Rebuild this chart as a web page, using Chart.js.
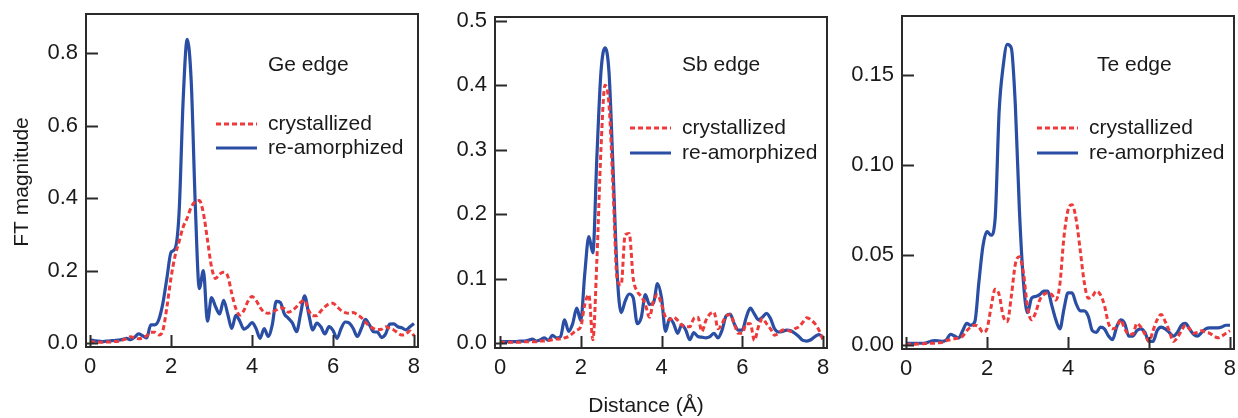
<!DOCTYPE html>
<html>
<head>
<meta charset="utf-8">
<script src="https://cdn.jsdelivr.net/npm/chart.js@4/dist/chart.umd.min.js"></script>
<style>
  html, body { margin: 0; padding: 0; background: #fff; }
  #wrap { position: relative; width: 1238px; height: 418px; }
  #wrap canvas { position: absolute; left: 0; top: 0; }
</style>
</head>
<body>
<div id="wrap">
  <canvas id="geChart" width="1238" height="418"></canvas>
  <canvas id="sbChart" width="1238" height="418"></canvas>
  <canvas id="teChart" width="1238" height="418"></canvas>
</div>
<script>
// distance axis (Å), shared by all three panels
var distance = [
  0.0, 0.1, 0.2, 0.3, 0.4, 0.5, 0.6, 0.7, 0.8, 0.9,
  1.0, 1.1, 1.2, 1.3, 1.4, 1.5, 1.6, 1.7, 1.8, 1.9,
  2.0, 2.1, 2.2, 2.3, 2.4, 2.5, 2.6, 2.7, 2.8, 2.9,
  3.0, 3.1, 3.2, 3.3, 3.4, 3.5, 3.6, 3.7, 3.8, 3.9,
  4.0, 4.1, 4.2, 4.3, 4.4, 4.5, 4.6, 4.7, 4.8, 4.9,
  5.0, 5.1, 5.2, 5.3, 5.4, 5.5, 5.6, 5.7, 5.8, 5.9,
  6.0, 6.1, 6.2, 6.3, 6.4, 6.5, 6.6, 6.7, 6.8, 6.9,
  7.0, 7.1, 7.2, 7.3, 7.4, 7.5, 7.6, 7.7, 7.8, 7.9, 8.0
];

var seriesNames = ["crystallized", "re-amorphized"];

// Ge edge
var geCrystallized = [
  0.004, 0.003, 0.002, 0.002, 0.003, 0.003, 0.004, 0.005, 0.008, 0.012,
  0.017, 0.015, 0.012, 0.014, 0.020, 0.030, 0.030, 0.022, 0.035, 0.100,
  0.180, 0.240, 0.280, 0.320, 0.345, 0.375, 0.390, 0.393, 0.358, 0.285,
  0.210, 0.178, 0.190, 0.195, 0.185, 0.137, 0.095, 0.077, 0.090, 0.115,
  0.128, 0.118, 0.098, 0.085, 0.082, 0.085, 0.091, 0.097, 0.095, 0.085,
  0.090, 0.100, 0.112, 0.118, 0.090, 0.075, 0.075, 0.088, 0.100, 0.108,
  0.110, 0.100, 0.090, 0.084, 0.082, 0.084, 0.078, 0.070, 0.058, 0.047,
  0.040, 0.037, 0.038, 0.045, 0.040, 0.036, 0.028, 0.022, 0.025, 0.033, 0.020
];
var geAmorphized = [
  0.008, 0.007, 0.005, 0.004, 0.005, 0.006, 0.007, 0.008, 0.010, 0.013,
  0.009, 0.016, 0.025, 0.020, 0.014, 0.050, 0.050, 0.065, 0.110, 0.180,
  0.250, 0.260, 0.360, 0.670, 0.838, 0.720, 0.380, 0.150, 0.200, 0.060,
  0.125, 0.100, 0.080, 0.118, 0.080, 0.040, 0.076, 0.060, 0.038, 0.045,
  0.056, 0.040, 0.013, 0.040, 0.018, 0.050, 0.115, 0.112, 0.080, 0.068,
  0.055, 0.031, 0.080, 0.130, 0.080, 0.036, 0.055, 0.045, 0.025, 0.045,
  0.035, 0.013, 0.040, 0.058, 0.055, 0.040, 0.018, 0.040, 0.065, 0.050,
  0.031, 0.030, 0.015, 0.025, 0.052, 0.053, 0.045, 0.042, 0.036, 0.045, 0.054
];

// Sb edge
var sbCrystallized = [
  0.001, 0.001, 0.001, 0.001, 0.001, 0.001, 0.002, 0.002, 0.002, 0.002,
  0.003, 0.003, 0.004, 0.005, 0.006, 0.006, 0.008, 0.010, 0.015, 0.020,
  0.025, 0.060, 0.075, 0.005, 0.130, 0.300, 0.400, 0.370, 0.240, 0.100,
  0.090, 0.168, 0.170, 0.100, 0.080, 0.072, 0.060, 0.040, 0.065, 0.075,
  0.060, 0.040, 0.036, 0.040, 0.035, 0.028, 0.025, 0.025, 0.038, 0.040,
  0.018, 0.035, 0.045, 0.048, 0.022, 0.030, 0.042, 0.044, 0.030, 0.015,
  0.015, 0.030, 0.030, 0.004, 0.025, 0.038, 0.030, 0.022, 0.012, 0.015,
  0.020, 0.020, 0.018, 0.022, 0.025, 0.032, 0.039, 0.036, 0.030, 0.020, 0.005
];
var sbAmorphized = [
  0.002, 0.002, 0.002, 0.002, 0.002, 0.003, 0.003, 0.004, 0.006, 0.003,
  0.005, 0.008, 0.004, 0.012, 0.008, 0.010, 0.036, 0.018, 0.030, 0.054,
  0.035, 0.108, 0.165, 0.140, 0.290, 0.420, 0.458, 0.420, 0.270, 0.110,
  0.047, 0.065, 0.076, 0.070, 0.030, 0.040, 0.075, 0.060, 0.062, 0.092,
  0.070, 0.018, 0.038, 0.030, 0.015, 0.028, 0.020, 0.005, 0.016, 0.010,
  0.009, 0.008, 0.010, 0.015, 0.008, 0.020, 0.042, 0.045, 0.030, 0.020,
  0.020, 0.040, 0.054, 0.045, 0.036, 0.040, 0.046, 0.038, 0.022, 0.017,
  0.018, 0.020, 0.019, 0.015, 0.010, 0.004, 0.003, 0.005, 0.010, 0.013, 0.009
];

// Te edge
var teCrystallized = [
  0.0005, 0.0005, 0.0005, 0.0006, 0.0007, 0.0008, 0.0010, 0.0010, 0.0012, 0.0015,
  0.0025, 0.0030, 0.0035, 0.0040, 0.0050, 0.0080, 0.0100, 0.0110, 0.0100, 0.0070,
  0.0090, 0.0210, 0.0310, 0.0280, 0.0160, 0.0130, 0.0270, 0.0450, 0.0490, 0.0400,
  0.0210, 0.0140, 0.0180, 0.0250, 0.0280, 0.0290, 0.0280, 0.0250, 0.0340, 0.0600,
  0.0750, 0.0780, 0.0700, 0.0530, 0.0350, 0.0260, 0.0270, 0.0300, 0.0280, 0.0220,
  0.0120, 0.0090, 0.0100, 0.0140, 0.0090, 0.0060, 0.0060, 0.0120, 0.0100, 0.0060,
  0.0020, 0.0080, 0.0140, 0.0170, 0.0130, 0.0080, 0.0020, 0.0040, 0.0080, 0.0110,
  0.0090, 0.0065, 0.0070, 0.0080, 0.0070, 0.0065, 0.0050, 0.0040, 0.0050, 0.0065, 0.0080
];
var teAmorphized = [
  0.0010, 0.0010, 0.0010, 0.0010, 0.0010, 0.0013, 0.0020, 0.0025, 0.0024, 0.0020,
  0.0030, 0.0060, 0.0050, 0.0040, 0.0080, 0.0120, 0.0110, 0.0130, 0.0350, 0.0550,
  0.0630, 0.0610, 0.0700, 0.1300, 0.1550, 0.1670, 0.1650, 0.1330, 0.0750, 0.0350,
  0.0180, 0.0260, 0.0270, 0.0280, 0.0300, 0.0300, 0.0220, 0.0140, 0.0090, 0.0200,
  0.0290, 0.0290, 0.0230, 0.0190, 0.0190, 0.0160, 0.0080, 0.0070, 0.0100, 0.0090,
  0.0050, 0.0030, 0.0100, 0.0140, 0.0120, 0.0050, 0.0050, 0.0080, 0.0090, 0.0070,
  0.0020, 0.0020, 0.0080, 0.0100, 0.0090, 0.0070, 0.0050, 0.0070, 0.0110, 0.0120,
  0.0090, 0.0060, 0.0050, 0.0070, 0.0090, 0.0095, 0.0095, 0.0095, 0.0100, 0.0110, 0.0110
];

// tick labels
var xTicks = [0, 2, 4, 6, 8];
var geYTicks = [0, 0.2, 0.4, 0.6, 0.8];
var sbYTicks = [0, 0.1, 0.2, 0.3, 0.4, 0.5];
var teYTicks = [0, 0.05, 0.10, 0.15];

var RED = "#ee3a3a";
var BLUE = "#2a4ea4";
var TEXT = "#1a1a1a";
var FONT = '"Liberation Sans", Arial, Helvetica, sans-serif';

// frame, inward ticks, panel label, legend and free axis titles
var panelDecor = {
    id: "panelDecor",
    afterDatasetsDraw: function (chart, args, opts) {
        var ctx = chart.ctx;
        var a = chart.chartArea;
        var xs = chart.scales.x;
        var ys = chart.scales.y;
        ctx.save();
        ctx.strokeStyle = "#2b2b2b";
        ctx.lineWidth = 2;
        ctx.strokeRect(a.left, a.top, a.right - a.left, a.bottom - a.top);
        ctx.beginPath();
        xs.ticks.forEach(function (t) {
            var px = Math.round(xs.getPixelForValue(t.value)) + 0.5;
            ctx.moveTo(px, a.bottom);
            ctx.lineTo(px, a.bottom - 12);
        });
        ys.ticks.forEach(function (t) {
            var py = Math.round(ys.getPixelForValue(t.value)) + 0.5;
            ctx.moveTo(a.left, py);
            ctx.lineTo(a.left + 12, py);
        });
        ctx.stroke();

        ctx.fillStyle = TEXT;
        ctx.font = "21px " + FONT;
        ctx.textBaseline = "middle";
        ctx.textAlign = "left";
        ctx.fillText(opts.edge, opts.edgeX, opts.edgeY);

        // legend, same order as the datasets
        chart.data.datasets.forEach(function (ds, i) {
            var y = opts.legendY + i * opts.legendGap;
            ctx.beginPath();
            ctx.strokeStyle = ds.borderColor;
            ctx.lineWidth = ds.borderWidth;
            ctx.setLineDash(ds.borderDash || []);
            ctx.moveTo(opts.legendX, y);
            ctx.lineTo(opts.legendX + 41, y);
            ctx.stroke();
            ctx.setLineDash([]);
            ctx.fillText(ds.label, opts.legendX + 52, y);
        });

        if (opts.xTitle) {
            ctx.textAlign = "center";
            ctx.fillText(opts.xTitle, opts.xTitleX, opts.xTitleY);
        }
        if (opts.yTitle) {
            ctx.translate(opts.yTitleX, opts.yTitleY);
            ctx.rotate(-Math.PI / 2);
            ctx.textAlign = "center";
            ctx.fillText(opts.yTitle, 0, 0);
        }
        ctx.restore();
    }
};

function makePanel(canvasId, cryst, amorph, yTicks, decimals, range, padding, decor) {
    var canvas = document.getElementById(canvasId);
    new Chart(canvas, {
        type: "line",
        data: {
            labels: distance,
            datasets: [{
                label: seriesNames[0],
                data: cryst,
                borderColor: RED,
                borderWidth: 3,
                borderDash: [5, 3],
                pointRadius: 0,
                cubicInterpolationMode: "monotone",
                fill: false
            }, {
                label: seriesNames[1],
                data: amorph,
                borderColor: BLUE,
                borderWidth: 3.2,
                pointRadius: 0,
                cubicInterpolationMode: "monotone",
                fill: false
            }]
        },
        options: {
            responsive: false,
            animation: false,
            devicePixelRatio: 1,
            layout: { padding: padding },
            events: [],
            scales: {
                x: {
                    type: "linear",
                    min: range.xMin,
                    max: range.xMax,
                    grid: { display: false, drawTicks: false },
                    border: { display: false },
                    afterBuildTicks: function (s) {
                        s.ticks = xTicks.map(function (v) { return { value: v }; });
                    },
                    afterFit: function (s) {
                        s.height = 50;
                        s.paddingLeft = 0;
                        s.paddingRight = 0;
                    },
                    ticks: {
                        color: TEXT,
                        padding: 7,
                        maxRotation: 0,
                        autoSkip: false,
                        font: { family: FONT, size: 22 },
                        callback: function (v) { return String(v); }
                    }
                },
                y: {
                    type: "linear",
                    min: range.yMin,
                    max: range.yMax,
                    grid: { display: false, drawTicks: false },
                    border: { display: false },
                    afterBuildTicks: function (s) {
                        s.ticks = yTicks.map(function (v) { return { value: v }; });
                    },
                    afterFit: function (s) {
                        s.width = 60;
                        s.paddingTop = 0;
                        s.paddingBottom = 0;
                    },
                    ticks: {
                        color: TEXT,
                        padding: 8,
                        autoSkip: false,
                        font: { family: FONT, size: 22 },
                        callback: function (v) { return Number(v).toFixed(decimals); }
                    }
                }
            },
            plugins: {
                legend: { display: false },
                tooltip: { enabled: false },
                panelDecor: decor
            }
        },
        plugins: [panelDecor]
    });
}

makePanel("geChart", geCrystallized, geAmorphized, geYTicks, 1,
    { xMin: -0.099, xMax: 8.099, yMin: -0.011, yMax: 0.9076 },
    { left: 26, right: 820, top: 14, bottom: 21 },
    { edge: "Ge edge", edgeX: 268, edgeY: 65, legendX: 216, legendY: 124, legendGap: 24,
      yTitle: "FT magnitude", yTitleX: 22, yTitleY: 182 });

makePanel("sbChart", sbCrystallized, sbAmorphized, sbYTicks, 1,
    { xMin: -0.124, xMax: 8.099, yMin: -0.0078, yMax: 0.506 },
    { left: 435, right: 411, top: 17, bottom: 20 },
    { edge: "Sb edge", edgeX: 682, edgeY: 65, legendX: 630, legendY: 128, legendGap: 25,
      xTitle: "Distance (Å)", xTitleX: 646, xTitleY: 406 });

makePanel("teChart", teCrystallized, teAmorphized, teYTicks, 2,
    { xMin: -0.099, xMax: 8.099, yMin: -0.0022, yMax: 0.1828 },
    { left: 842, right: 4, top: 16, bottom: 19 },
    { edge: "Te edge", edgeX: 1097, edgeY: 65, legendX: 1037, legendY: 128, legendGap: 25 });
</script>
</body>
</html>
